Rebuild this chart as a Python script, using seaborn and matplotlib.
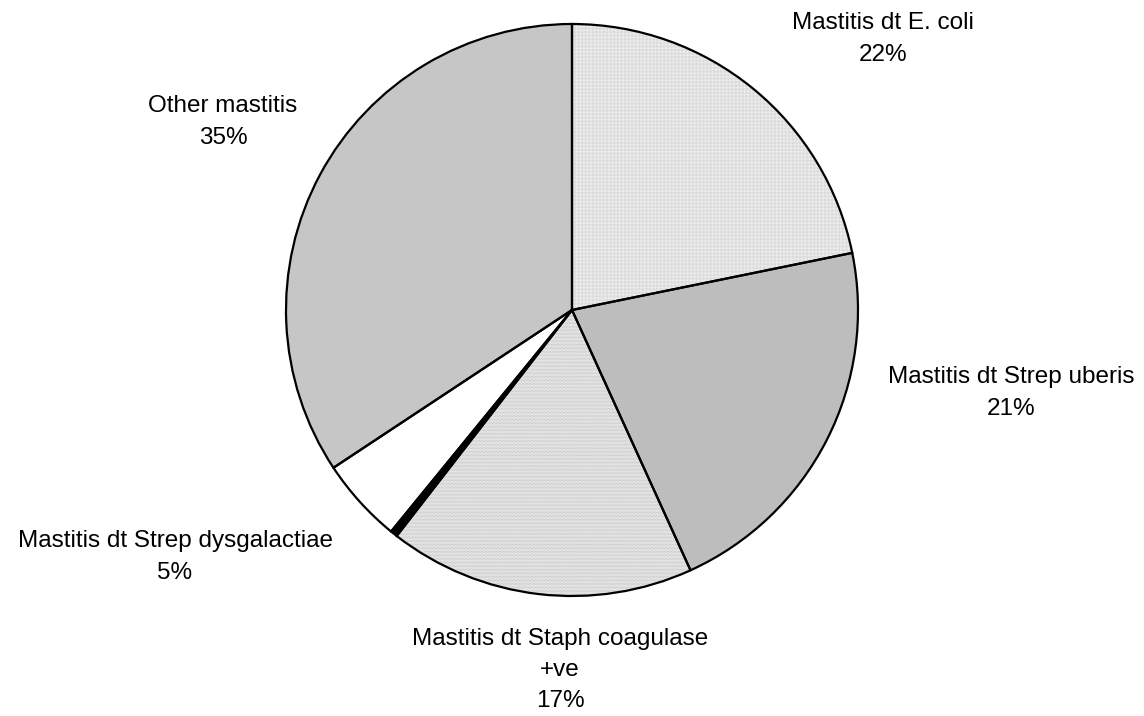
import matplotlib
matplotlib.use("Agg")
import matplotlib.pyplot as plt
import seaborn as sns

# mastitis cases by cause (share of total, %)
causes = ["Mastitis dt E. coli", "Mastitis dt Strep uberis",
          "Mastitis dt Staph coagulase\n+ve", "", "Mastitis dt Strep dysgalactiae",
          "Other mastitis"]
shares = [21.8, 21.4, 17.3, 0.4, 4.8, 34.3]
pct_labels = ["22%", "21%", "17%", "", "5%", "35%"]

sns.set_theme(style="white")
plt.rcParams["font.family"] = ["Liberation Sans", "DejaVu Sans"]
plt.rcParams["hatch.linewidth"] = 0.4

colors = ["#fdfdfd", "#bdbdbd", "#eeeeee", "#000000", "#ffffff", "#c6c6c6"]
hatches = ["+" * 12, "", "." * 12, "", "", ""]
hatch_colors = ["#dcdcdc", "#bdbdbd", "#b0b0b0", "#000000", "#ffffff", "#c6c6c6"]

fig = plt.figure(figsize=(11.44, 7.16), dpi=100)
ax = fig.add_axes([286 / 1144, 120 / 716, 572 / 1144, 572 / 716])

# fills with texture
fills, _ = ax.pie(shares, colors=colors, startangle=90, counterclock=False,
                  radius=1, wedgeprops=dict(linewidth=0))
for w, h, hc in zip(fills, hatches, hatch_colors):
    w.set_edgecolor(hc)
    if h:
        w.set_hatch(h)

# black outlines on top
ax.pie(shares, colors=["none"] * len(shares), startangle=90, counterclock=False,
       radius=1, wedgeprops=dict(edgecolor="black", linewidth=1.6))

# label centres in data units (pie radius = 1)
label_pos = [(1.087, 0.948), (1.535, -0.290), (-0.042, -1.259), None,
             (-1.388, -0.864), (-1.220, 0.657)]
for name, pct, pos in zip(causes, pct_labels, label_pos):
    if pos is None:
        continue
    ax.text(pos[0], pos[1], f"{name}\n{pct}", ha="center", va="center",
            fontsize=17.5, linespacing=1.55, color="black", clip_on=False)

ax.set_xlim(-1, 1)
ax.set_ylim(-1, 1)
ax.set_aspect("equal")
ax.axis("off")

fig.savefig("out.png", dpi=100, facecolor="white")
